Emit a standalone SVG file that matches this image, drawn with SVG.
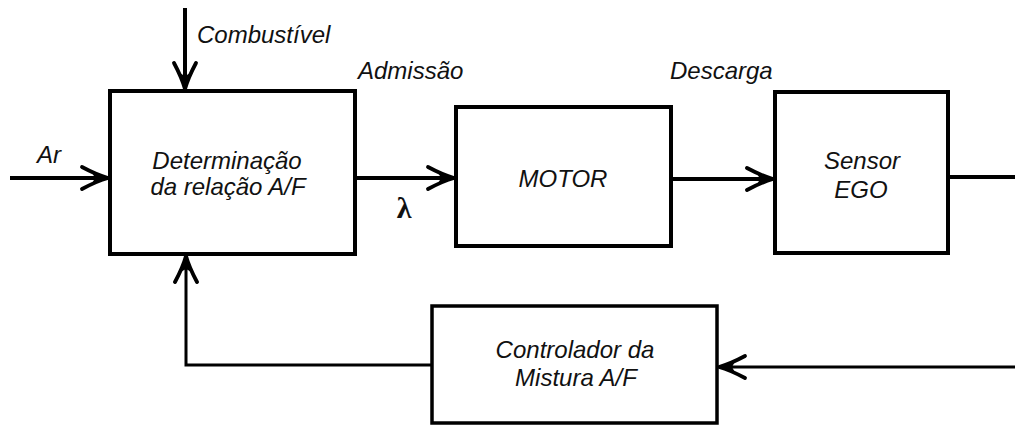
<svg xmlns="http://www.w3.org/2000/svg" width="1015" height="426" viewBox="0 0 1015 426">
<style>
.box{fill:#fff;stroke:#000;stroke-width:4}
.ln{fill:none;stroke:#000;stroke-width:4}
.ln3{fill:none;stroke:#000;stroke-width:3}
.t{font-family:"Liberation Sans",Arial,sans-serif;font-style:italic;font-size:24px;fill:#111}
.c{text-anchor:middle}
.lam{font-family:"Liberation Serif","DejaVu Serif",serif;font-weight:bold;font-size:30px;fill:#111;text-anchor:middle}
</style>
<defs>
<marker id="ah" viewBox="-29 -14 32 28" refX="0" refY="0" markerWidth="32" markerHeight="28" markerUnits="userSpaceOnUse" orient="auto">
<path d="M-26,-11 Q-11,-3 0,0 Q-11,3 -26,11" fill="none" stroke="#000" stroke-width="3.8" stroke-linejoin="round" stroke-linecap="round"/>
<path d="M0,0 Q-8,-3 -16,-5.5 L-13,0 L-16,5.5 Q-8,3 0,0Z" fill="#000"/>
</marker>
</defs>
<g id="connectors">
<path class="ln" d="M185,8 V89" marker-end="url(#ah)"/>
<path class="ln" d="M10,178 H108" marker-end="url(#ah)"/>
<path class="ln" d="M357,178 H454" marker-end="url(#ah)"/>
<path class="ln" d="M673,179 H773" marker-end="url(#ah)"/>
<path class="ln" d="M950,177 H1015"/>
<path class="ln3" d="M1015,367 H719" marker-end="url(#ah)"/>
<path class="ln3" d="M431,365 H186 V256" marker-end="url(#ah)"/>
</g>
<g id="n-determinacao">
<rect class="box" x="110" y="91" width="245" height="163"/>
<text class="t c" x="227" y="169">Determinação</text>
<text class="t c" x="228" y="195">da relação A/F</text>
</g>
<g id="n-motor">
<rect class="box" x="456" y="107" width="215" height="139"/>
<text class="t c" x="563" y="187">MOTOR</text>
</g>
<g id="n-sensor">
<rect class="box" x="775" y="92" width="173" height="161"/>
<text class="t c" x="862" y="169">Sensor</text>
<text class="t c" x="861" y="198">EGO</text>
</g>
<g id="n-controlador">
<rect class="box" x="432" y="306" width="285" height="117" style="stroke-width:3.5"/>
<text class="t c" x="575" y="358">Controlador da</text>
<text class="t c" x="576" y="386">Mistura A/F</text>
</g>
<g id="labels">
<text class="t" x="197" y="43">Combustível</text>
<text class="t" x="358" y="79">Admissão</text>
<text class="t" x="670" y="79">Descarga</text>
<text class="t" x="37" y="163">Ar</text>
<text class="lam" x="404" y="218">λ</text>
</g>
</svg>
